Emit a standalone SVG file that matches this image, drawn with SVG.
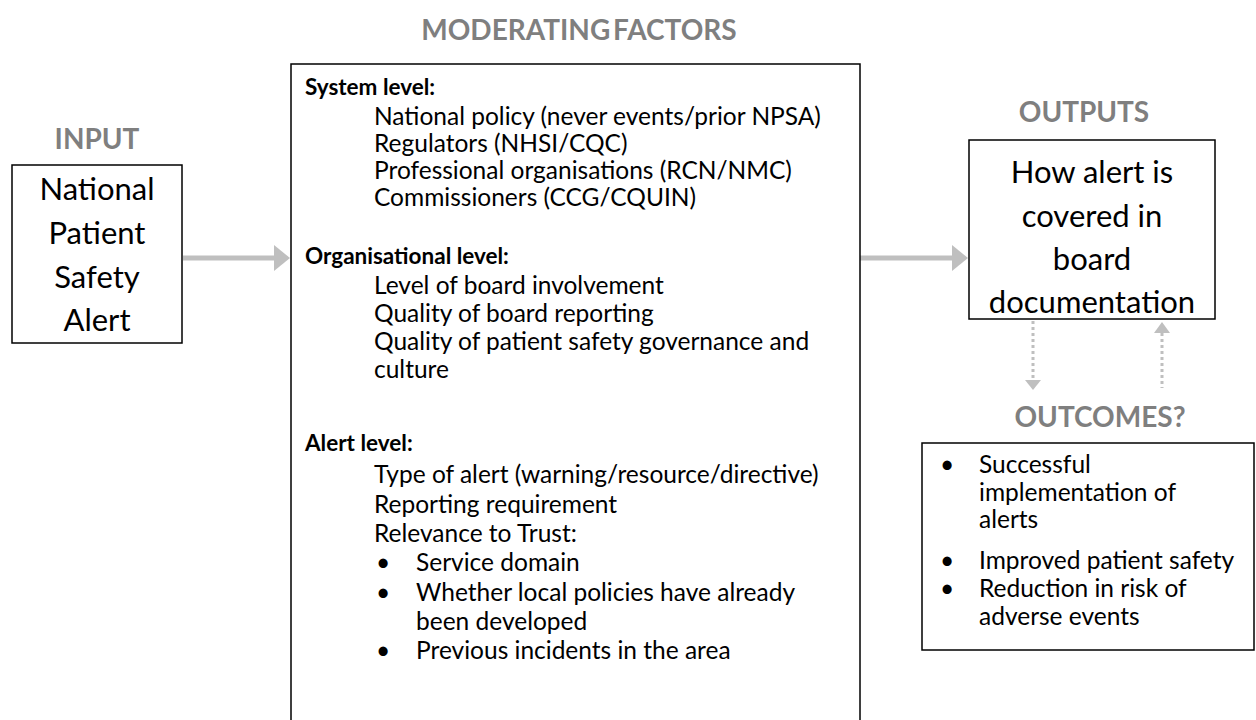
<svg xmlns="http://www.w3.org/2000/svg" width="1256" height="720" viewBox="0 0 1256 720">
  <style>
    .box { fill: #ffffff; stroke: #000000; stroke-width: 1.5; }
    .title { font-family: Lato, "Liberation Sans", sans-serif; font-weight: bold; fill: #7f7f7f; font-size: 28px; text-anchor: middle; }
    .big { font-family: Lato, "Liberation Sans", sans-serif; fill: #000000; font-size: 31px; text-anchor: middle; }
    .body { font-family: Lato, "Liberation Sans", sans-serif; fill: #000000; font-size: 24.5px; }
    .head { font-weight: bold; font-size: 22.5px; }
    .flow { stroke: #bfbfbf; stroke-width: 5; fill: none; }
    .dots { stroke: #bfbfbf; stroke-width: 3; stroke-dasharray: 3 3; fill: none; }
    .tip { fill: #bfbfbf; }
  </style>

  <rect width="1256" height="720" fill="#ffffff"/>

  <!-- section headings -->
  <g id="headings">
    <text class="title" x="97" y="149">INPUT</text>
    <text class="title" x="579" y="40" font-size="30" word-spacing="-4">MODERATING FACTORS</text>
    <text class="title" x="1084" y="122">OUTPUTS</text>
    <text class="title" x="1100" y="427" font-size="26">OUTCOMES?</text>
  </g>

  <!-- connectors -->
  <g id="connectors">
    <line class="flow" x1="183" y1="258" x2="276" y2="258"/>
    <polygon class="tip" points="274,245 290,258 274,271"/>
    <line class="flow" x1="860" y1="258" x2="954" y2="258"/>
    <polygon class="tip" points="952,245 968,258 952,271"/>
    <line class="dots" x1="1033" y1="321" x2="1033" y2="380"/>
    <polygon class="tip" points="1025,380 1041,380 1033,390"/>
    <line class="dots" x1="1162" y1="333" x2="1162" y2="388"/>
    <polygon class="tip" points="1154,333 1170,333 1162,322"/>
  </g>

  <!-- input node -->
  <g id="input">
    <rect class="box" x="12" y="165" width="170" height="178"/>
    <text class="big" x="97" y="200">National</text>
    <text class="big" x="97" y="244">Patient</text>
    <text class="big" x="97" y="288">Safety</text>
    <text class="big" x="97" y="331">Alert</text>
  </g>

  <!-- moderating factors node -->
  <g id="moderating">
    <rect class="box" x="291" y="64" width="569" height="670"/>
    <text class="body head" x="305" y="95">System level:</text>
    <text class="body" x="374" y="125">National policy (never events/prior NPSA)</text>
    <text class="body" x="374" y="152">Regulators (NHSI/CQC)</text>
    <text class="body" x="374" y="179">Professional organisations (RCN/NMC)</text>
    <text class="body" x="374" y="206">Commissioners (CCG/CQUIN)</text>
    <text class="body head" x="305" y="264">Organisational level:</text>
    <text class="body" x="374" y="294">Level of board involvement</text>
    <text class="body" x="374" y="322">Quality of board reporting</text>
    <text class="body" x="374" y="350">Quality of patient safety governance and</text>
    <text class="body" x="374" y="378">culture</text>
    <text class="body head" x="305" y="451">Alert level:</text>
    <text class="body" x="374" y="483">Type of alert (warning/resource/directive)</text>
    <text class="body" x="374" y="513">Reporting requirement</text>
    <text class="body" x="374" y="542">Relevance to Trust:</text>
    <text class="body" x="376" y="571">•</text>
    <text class="body" x="416" y="571">Service domain</text>
    <text class="body" x="376" y="601">•</text>
    <text class="body" x="416" y="601">Whether local policies have already</text>
    <text class="body" x="416" y="630">been developed</text>
    <text class="body" x="376" y="659">•</text>
    <text class="body" x="416" y="659">Previous incidents in the area</text>
  </g>

  <!-- outputs node -->
  <g id="outputs">
    <rect class="box" x="969" y="140" width="246" height="179"/>
    <text class="big" x="1092" y="183">How alert is</text>
    <text class="big" x="1092" y="227">covered in</text>
    <text class="big" x="1092" y="270">board</text>
    <text class="big" x="1092" y="313">documentation</text>
  </g>

  <!-- outcomes node -->
  <g id="outcomes">
    <rect class="box" x="922" y="443" width="332" height="207"/>
    <text class="body" x="940" y="473">•</text>
    <text class="body" x="979" y="473">Successful</text>
    <text class="body" x="979" y="501">implementation of</text>
    <text class="body" x="979" y="528">alerts</text>
    <text class="body" x="940" y="569">•</text>
    <text class="body" x="979" y="569">Improved patient safety</text>
    <text class="body" x="940" y="597">•</text>
    <text class="body" x="979" y="597">Reduction in risk of</text>
    <text class="body" x="979" y="625">adverse events</text>
  </g>
</svg>
